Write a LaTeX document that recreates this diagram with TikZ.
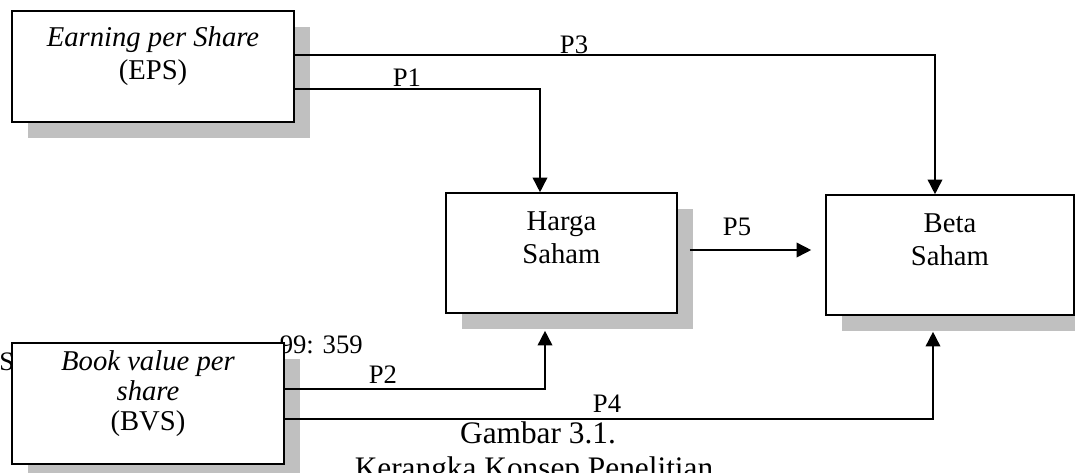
\documentclass[tikz,border=0pt]{standalone}
\usepackage{fontspec}
\setmainfont{Liberation Serif}
\usetikzlibrary{arrows.meta,positioning,calc,shadows}
\definecolor{ink}{HTML}{000000}
\definecolor{shade}{HTML}{C0C0C0}

\begin{document}
\begin{tikzpicture}[x=0.75pt,y=-0.75pt,
  box/.style={draw=ink,fill=white,line width=1.2pt,inner sep=0pt,
    general shadow={fill=shade,shadow xshift=12pt,shadow yshift=-12pt}},
  txt/.style={font=\fontsize{21.5}{24.75}\selectfont,text=ink,align=center,inner sep=0pt},
  pth/.style={font=\fontsize{20}{24}\selectfont,text=ink,inner sep=0pt,anchor=base},
  captxt/.style={font=\fontsize{23.5}{27}\selectfont,text=ink,inner sep=0pt,anchor=base},
  link/.style={draw=ink,line width=1.2pt,-{Triangle[length=11pt,width=11pt]}}]
\useasboundingbox (0,0) rectangle (1075,472);
\clip (0,0) rectangle (1075,472);
% text partly hidden behind the BVS box
\node[pth,anchor=base west] (srcl) at (-1,370) {S};
\node[pth,anchor=base east] (srcr) at (363,353) {99: 359};
% boxes
\node[box,minimum width=211.5pt,minimum height=83.25pt] (eps) at (153,66.5) {};
\node[box,minimum width=204pt,minimum height=90.75pt] (bvs) at (148,403.5) {};
\node[box,minimum width=173.25pt,minimum height=90pt] (harga) at (561.5,253) {};
\node[box,minimum width=186pt,minimum height=90pt] (beta) at (950,255) {};
\node[txt,below=12.3pt of eps.north] (epsl) {\textit{Earning per Share}\\(EPS)};
\node[txt,below=6pt of bvs.north,font=\fontsize{21.5}{22.5}\selectfont] (bvsl) {\textit{Book value per}\\\textit{share}\\(BVS)};
\node[txt,below=14.8pt of harga.north] (hargal) {Harga\\Saham};
\node[txt,below=14.5pt of beta.north] (betal) {Beta\\Saham};
% paths
\draw[link] ($(eps.east)+(0,-11.5)$) -| ($(beta.north)+(-15,0)$);
\draw[link] ($(eps.east)+(0,22.5)$) -| ($(harga.north)+(-21.5,0)$);
\draw[link] ($(bvs.east)+(0,-14.5)$) -| ($(harga.south)+(-16.5,17)$);
\draw[link] ($(bvs.east)+(0,15.5)$) -| ($(beta.south)+(-17,16)$);
\draw[link] ($(harga.east)+(12,-3)$) -- ($(beta.west)+(-14,-5)$);
\node[pth] (p3) at (574,53.3) {P3};
\node[pth] (p1) at (407,86.7) {P1};
\node[pth] (p5) at (737,235) {P5};
\node[pth] (p2) at (383,383) {P2};
\node[pth] (p4) at (607,412) {P4};
% caption
\node[captxt] (fig) at (538,443) {Gambar 3.1.};
\node[captxt] (figt) at (534,478) {Kerangka Konsep Penelitian};
\end{tikzpicture}
\end{document}
